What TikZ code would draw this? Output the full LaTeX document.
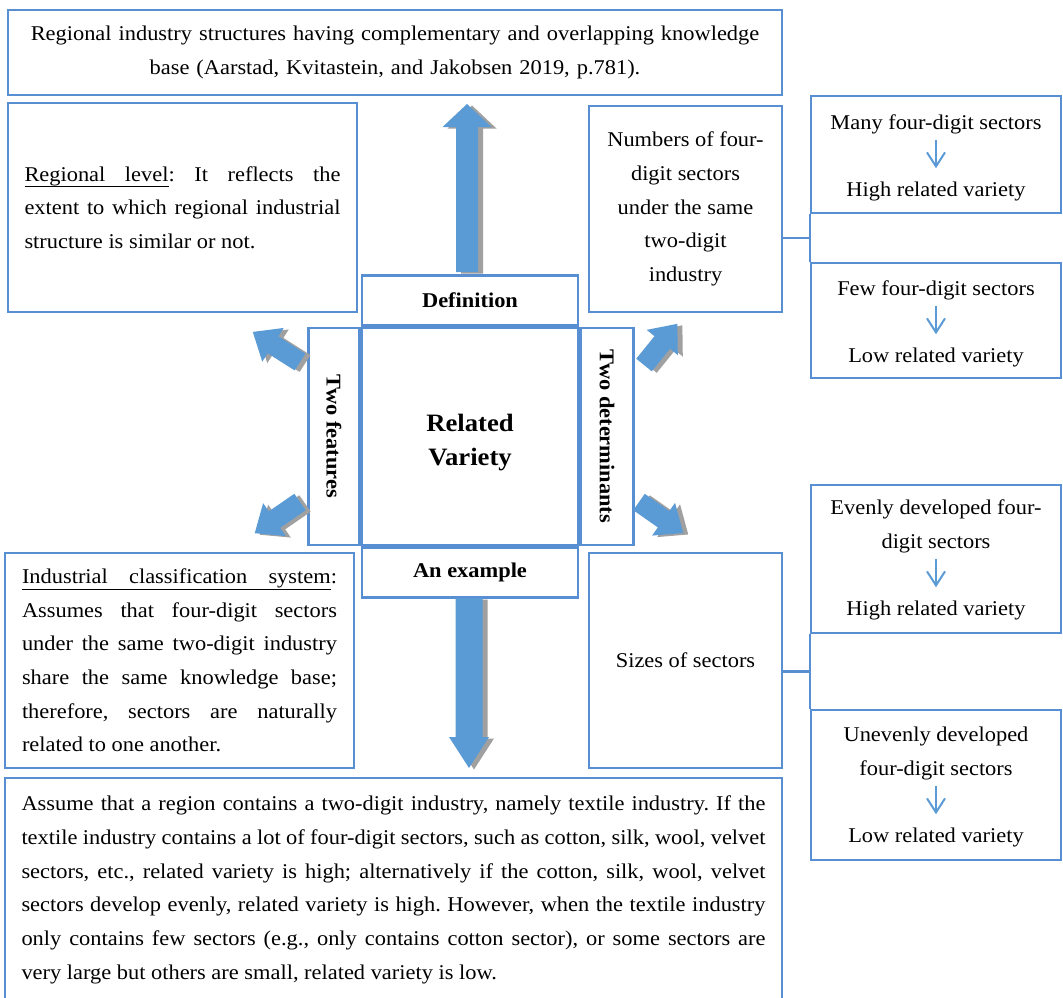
\documentclass[tikz,border=0pt]{standalone}
\usepackage{fontspec}
\setmainfont[FakeStretch=1.067]{Liberation Serif}
\usepackage{tikz}
\usetikzlibrary{arrows.meta,calc}
\definecolor{boxblue}{RGB}{88,143,210}
\definecolor{arrowblue}{RGB}{91,155,213}
\definecolor{shadowgray}{RGB}{160,160,160}
\hyphenpenalty=10000
\exhyphenpenalty=10000
\tolerance=10000
\frenchspacing
\newcommand\bodyfont{\fontsize{21}{33.7}\selectfont}
% underlined word and underlined stretchable space
\newcommand\ulword[1]{\setbox0\hbox{#1}\rlap{\vrule height -5pt depth 6.3pt width\wd0}\box0}
\newcommand\ulspace{\leaders\hrule height -5pt depth 6.3pt\hskip\fontdimen2\font plus\fontdimen3\font minus\fontdimen4\font}
% fat arrow with its shadow: x, y, angle, length, shaft, head, head length
\newcommand\blockarrow[7]{%
  \foreach \dx/\dy/\col in {5/1.5/shadowgray,0/0/arrowblue}{
    \fill[\col,shift={(\dx,\dy)},shift={(#1,#2)},rotate=#3]
      (0,{-#5/2}) -- ({#4-#7},{-#5/2}) -- ({#4-#7},{-#6/2}) -- (#4,0)
      -- ({#4-#7},{#6/2}) -- ({#4-#7},{#5/2}) -- (0,{#5/2}) -- cycle;
  }}
\tikzset{
  box/.style={draw=boxblue,line width=2.5pt,inner sep=0pt,font=\bodyfont},
  parbox/.style={box,align=justify},
  headbox/.style={box,font=\bodyfont\bfseries},
  txt/.style={inner sep=2pt,font=\bodyfont},
  down/.style={draw=arrowblue,line width=2pt,-{Straight Barb[length=14pt,width=18pt]},
    shorten <=4pt,shorten >=11pt},
  conn/.style={draw=boxblue,line width=2.5pt}
}
\begin{document}
\begin{tikzpicture}[x=1pt,y=-1pt]
\useasboundingbox (0,0) rectangle (1063,998);
\clip (0,0) rectangle (1063,998);

% top definition text
\node[box,text width=740pt,inner xsep=17pt,minimum height=85pt,align=center] (quote) at (395,52.5)
  {Regional industry structures having complementary and overlapping knowledge\\
   base (Aarstad, Kvitastein, and Jakobsen 2019, p.781).};

% centre
\node[box,minimum width=216pt,minimum height=217pt] (rv) at (470,436.5) {};
\node[align=center,font=\bfseries\fontsize{25}{34}\selectfont] (rvlabel)
  at ([yshift=-6pt]rv.center) {Related\\Variety};
\node[headbox,minimum width=216pt,minimum height=50pt,anchor=south] (defn) at (rv.north) {Definition};
\node[headbox,minimum width=216pt,minimum height=50pt,anchor=north] (exmp) at (rv.south) {An example};
\node[headbox,rotate=-90,minimum width=217pt,minimum height=51pt,anchor=north] (feat) at (rv.west) {Two features};
\node[headbox,rotate=-90,minimum width=217pt,minimum height=53pt,anchor=south] (dets) at (rv.east) {Two determinants};

% left side
\node[parbox,text width=316pt,inner xsep=16.5pt,minimum height=209pt] (level) at (182.5,207.5)
  {\ulword{Regional}\ulspace\ulword{level}: It reflects the extent to which regional industrial structure is similar or not.};
\node[parbox,text width=315pt,inner xsep=17pt,minimum height=215pt] (system) at (179.5,660.5)
  {\ulword{Industrial}\ulspace\ulword{classification}\ulspace\ulword{system}: Assumes that four-digit sectors under the same two-digit industry share the same knowledge base; therefore, sectors are naturally related to one another.};

% example
\node[parbox,text width=744pt,inner xsep=16.5pt,minimum height=224pt] (textile) at (393.5,890)
  {Assume that a region contains a two-digit industry, namely textile industry. If the textile industry contains a lot of four-digit sectors, such as cotton, silk, wool, velvet sectors, etc., related variety is high; alternatively if the cotton, silk, wool, velvet sectors develop evenly, related variety is high. However, when the textile industry only contains few sectors (e.g., only contains cotton sector), or some sectors are\linebreak very large but others are small, related variety is low.};

% determinants
\node[box,minimum width=193pt,minimum height=206pt,align=center] (nums) at (685.5,209)
  {Numbers of four-\\digit sectors\\under the same\\two-digit\\industry};
\node[box,minimum width=193pt,minimum height=215pt] (sizes) at (685.5,660.5) {Sizes of sectors};

% outcomes
\node[box,minimum width=250pt,minimum height=117pt] (many) at (936,154.5) {};
\node[box,minimum width=250pt,minimum height=115pt] (few) at (936,320.5) {};
\node[box,minimum width=250pt,minimum height=148pt] (even) at (936,559) {};
\node[box,minimum width=250pt,minimum height=150pt] (uneven) at (936,785) {};
\node[txt] (manyA) at (936,124) {Many four-digit sectors};
\node[txt] (manyB) at (936,191) {High related variety};
\node[txt] (fewA) at (936,290) {Few four-digit sectors};
\node[txt] (fewB) at (936,357) {Low related variety};
\node[txt,align=center] (evenA) at (936,526.5) {Evenly developed four-\\digit sectors};
\node[txt] (evenB) at (936,610) {High related variety};
\node[txt,align=center] (unevenA) at (936,753.5) {Unevenly developed\\four-digit sectors};
\node[txt] (unevenB) at (936,837) {Low related variety};
\draw[down] (manyA) -- (manyB);
\draw[down] (fewA) -- (fewB);
\draw[down] (evenA) -- (evenB);
\draw[down] (unevenA) -- (unevenB);

% brackets
\coordinate (jtop) at ($(many.south west)!0.5!(few.north west)$);
\coordinate (jbot) at ($(even.south west)!0.5!(uneven.north west)$);
\draw[conn] (many.south west) -- (few.north west);
\draw[conn] (nums.east |- jtop) -- (jtop);
\draw[conn] (even.south west) -- (uneven.north west);
\draw[conn] (sizes.east |- jbot) -- (jbot);

% fat arrows
\blockarrow{467}{272}{90}{168}{22}{49}{23}
\blockarrow{469}{598}{-90}{170}{27}{40}{31}
\blockarrow{300}{362}{147.5}{56}{20}{40}{24}
\blockarrow{300}{502}{214.6}{55}{20}{40}{24}
\blockarrow{644}{365}{51}{53}{20}{40}{24}
\blockarrow{639}{502}{-35}{54}{20}{40}{24}
\end{tikzpicture}
\end{document}
